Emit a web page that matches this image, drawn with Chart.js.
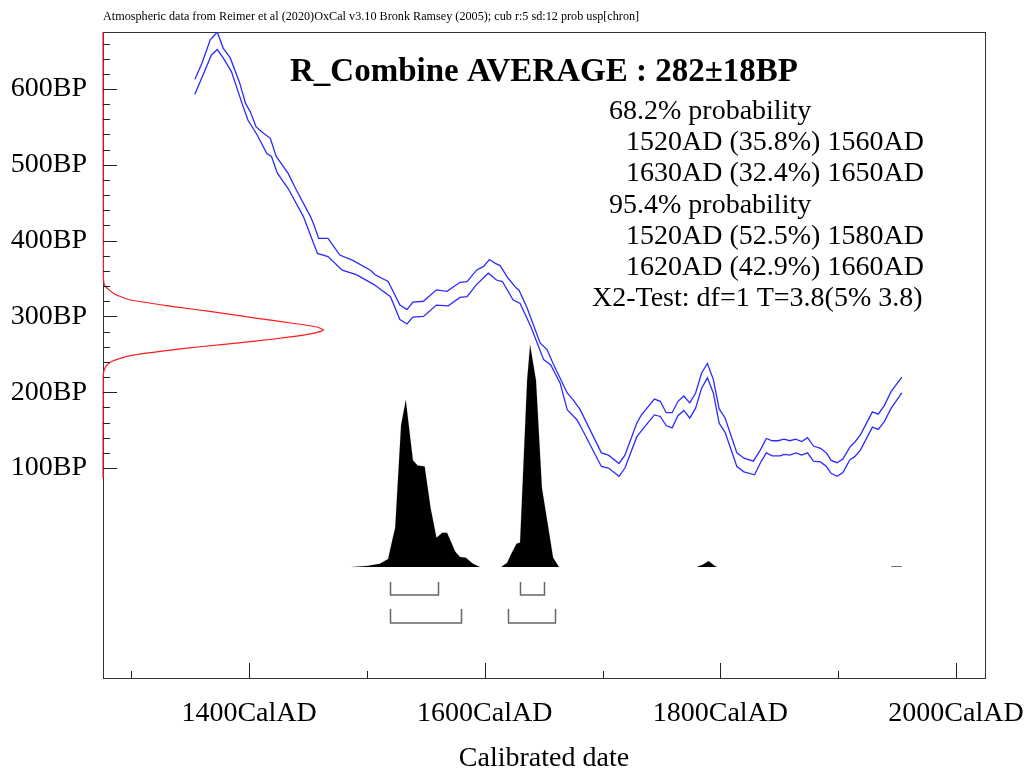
<!DOCTYPE html>
<html>
<head>
<meta charset="utf-8">
<script src="https://cdn.jsdelivr.net/npm/chart.js@4.4.0/dist/chart.umd.min.js"></script>
<style>
body{margin:0;background:#fff;}
canvas{display:block;}
</style>
</head>
<body>
<canvas id="calPlot" width="1029" height="769"></canvas>
<script>
// calibration curve, upper edge of the band (cal AD / BP)
const curveUpperYears = [1354,1360,1367,1370,1373,1378,1384,1392,1397,1401,
    1406,1412,1418,1423,1433,1440,1452,1455,1459,1467,
    1477,1488,1503,1507,1518,1528,1534,1539,1548,1559,
    1568,1579,1585,1593,1599,1604,1609,1613,1620,1627,
    1629,1636,1647,1653,1658,1670,1675,1681,1699,1705,
    1714,1719,1729,1733,1744,1749,1754,1759,1764,1769,
    1774,1779,1784,1789,1794,1799,1804,1814,1820,1828,
    1834,1839,1844,1849,1854,1859,1864,1869,1874,1879,
    1885,1890,1894,1899,1904,1910,1914,1919,1929,1934,
    1939,1945,1954];
const curveUpperBP = [613,634,665,670,675,654,641,608,581,570,
    550,542,535,511,489,467,432,421,403,403,
    381,374,361,355,346,315,309,319,320,335,
    333,345,346,361,366,375,370,367,350,337,
    335,311,265,256,238,199,190,177,120,117,
    106,117,159,170,191,188,173,173,188,195,
    186,199,225,238,217,178,166,120,113,109,
    124,139,136,136,138,136,138,135,140,129,
    126,120,110,107,112,128,134,144,174,171,
    182,201,220];

// calibration curve, lower edge of the band
const curveLowerYears = [1354,1368,1373,1378,1385,1394,1399,1407,1415,1419,
    1424,1433,1446,1458,1467,1479,1491,1506,1520,1528,
    1534,1539,1548,1559,1569,1579,1585,1593,1603,1610,
    1615,1624,1630,1639,1650,1656,1664,1670,1678,1681,
    1699,1705,1714,1719,1729,1735,1744,1749,1754,1759,
    1764,1769,1774,1779,1784,1789,1794,1799,1804,1814,
    1820,1829,1834,1839,1844,1851,1854,1859,1864,1869,
    1874,1879,1885,1890,1894,1899,1904,1910,1914,1919,
    1929,1934,1939,1945,1954];
const curveLowerBP = [593,645,652,641,623,581,559,539,515,511,
    489,469,432,383,379,361,355,342,326,296,
    290,299,300,315,314,325,326,342,357,348,
    346,322,317,287,243,236,212,177,164,156,
    102,100,89,100,141,153,170,168,156,153,
    169,176,166,179,205,219,199,159,147,102,
    95,91,107,120,116,116,118,117,120,117,
    120,109,108,102,93,89,94,111,115,124,
    154,151,161,179,199];

// calibrated distribution (relative probability, null = gap)
const probYears = [1487,1500,1511,1518,1522,1524,1529,1533,1539,1543,
    1549,1554,1559,1564,1568,1575,1579,1584,1590,1596,
    1605,1614,1619,1623,1627,1630,1636,1638.5,1643.5,1648.5,
    1653,1658,1663,1720,1780,1785,1790,1795,1797,1900,
    1945,1954];
const probValues = [0,0.004,0.014,0.036,0.131,0.176,0.638,0.751,0.48,0.457,
    0.452,0.267,0.131,0.154,0.154,0.068,0.045,0.041,0.014,0,
    null,0,0.019,0.064,0.104,0.11,0.842,1,0.84,0.357,
    0.208,0.042,0,null,0,0.01,0.027,0.006,0,null,
    0.002,0.002];

// radiocarbon date 282±18BP (relative density)
const dateBP = [675,350,340,330,322,313,306,300,295,291,286,282,278,273,267,260,254,249,243,238,230,220,87];
const dateDensity = [0,0.002,0.01,0.05,0.12,0.32,0.5,0.64,0.76,0.86,0.97,1,0.96,0.85,0.68,0.44,0.26,0.136,0.06,0.025,0.006,0.001,0];

// hpd ranges
const range68 = [[1520,1560],[1630,1650]];
const range95 = [[1520,1580],[1620,1660]];

// ticks
const xTickYears = [1300,1400,1500,1600,1700,1800,1900,2000];
const xLabelYears = [1400,1600,1800,2000];
const yTickBP = [100,200,300,400,500,600];
const yMinorBP = [120,140,160,180,220,240,260,280,320,340,360,380,420,440,460,480,520,540,560,580,620,640,660];

const noteText = "Atmospheric data from Reimer et al (2020)OxCal v3.10 Bronk Ramsey (2005); cub r:5 sd:12 prob usp[chron]";
const titleText = "R_Combine AVERAGE : 282\u00b118BP";
const resultLines = ["68.2% probability", "1520AD (35.8%) 1560AD", "1630AD (32.4%) 1650AD",
    "95.4% probability", "1520AD (52.5%) 1580AD", "1620AD (42.9%) 1660AD", "X2-Test: df=1 T=3.8(5% 3.8)"];
const resultIndent = [609, 626, 626, 609, 626, 626, 592];

const serif = "'Liberation Serif', 'Times New Roman', serif";

function toPoints(xs, ys){
    return xs.map(function(x, i){ return {x: x, y: ys[i]}; });
}

// box round the plot area, drawn under the data
const framePlugin = {
    id: 'frame',
    beforeDatasetsDraw(chart){
        const a = chart.chartArea, c = chart.ctx;
        c.save();
        c.strokeStyle = '#333';
        c.lineWidth = 1;
        c.strokeRect(a.left + 0.5, a.top + 0.5, a.right - a.left, a.bottom - a.top);
        c.restore();
    }
};

// inward tick marks, hpd brackets and the text block
const overlayPlugin = {
    id: 'overlay',
    afterDatasetsDraw(chart){
        const a = chart.chartArea, c = chart.ctx;
        const xs = chart.scales.x, ys = chart.scales.y, yp = chart.scales.yProb;
        c.save();
        c.strokeStyle = '#222';
        c.lineWidth = 1;
        c.beginPath();
        xTickYears.forEach(function(v){
            const px = Math.round(xs.getPixelForValue(v)) + 0.5;
            const len = xLabelYears.indexOf(v) >= 0 ? 15 : 7;
            c.moveTo(px, a.bottom);
            c.lineTo(px, a.bottom - len);
        });
        yTickBP.forEach(function(v){
            const py = Math.round(ys.getPixelForValue(v)) + 0.5;
            c.moveTo(a.left, py);
            c.lineTo(a.left + 14, py);
        });
        yMinorBP.forEach(function(v){
            const py = Math.round(ys.getPixelForValue(v)) + 0.5;
            c.moveTo(a.left, py);
            c.lineTo(a.left + 7, py);
        });
        c.stroke();

        // hpd range brackets under the distribution
        const base = yp.getPixelForValue(0);
        c.strokeStyle = '#666';
        c.lineWidth = 1.5;
        [[range68, 15, 28], [range95, 42, 56]].forEach(function(row){
            row[0].forEach(function(r){
                const x1 = Math.round(xs.getPixelForValue(r[0])) + 0.5;
                const x2 = Math.round(xs.getPixelForValue(r[1])) + 0.5;
                c.beginPath();
                c.moveTo(x1, base + row[1]);
                c.lineTo(x1, base + row[2]);
                c.lineTo(x2, base + row[2]);
                c.lineTo(x2, base + row[1]);
                c.stroke();
            });
        });

        c.fillStyle = '#000';
        c.textBaseline = 'alphabetic';
        c.textAlign = 'left';
        c.font = '12.2px ' + serif;
        c.fillText(noteText, 103, 20);

        c.textAlign = 'center';
        c.font = 'bold 33px ' + serif;
        c.fillText(titleText, 544, 81);

        c.textAlign = 'left';
        c.font = '28px ' + serif;
        resultLines.forEach(function(t, i){
            c.fillText(t, resultIndent[i], 119 + i * 31.2);
        });

        c.textAlign = 'center';
        c.fillText('Calibrated date', (a.left + a.right) / 2, 766);
        c.restore();
    }
};

const ctx = document.getElementById('calPlot').getContext('2d');
new Chart(ctx, {
    type: 'scatter',
    data: {
        datasets: [
            {
                data: toPoints(probYears, probValues),
                yAxisID: 'yProb',
                showLine: true,
                spanGaps: false,
                fill: 'origin',
                backgroundColor: '#000',
                borderColor: 'rgba(0,0,0,0.15)',
                borderWidth: 1,
                pointRadius: 0
            },
            {
                data: toPoints(curveUpperYears, curveUpperBP),
                showLine: true,
                borderColor: '#2b2bff',
                borderWidth: 1.3,
                pointRadius: 0
            },
            {
                data: toPoints(curveLowerYears, curveLowerBP),
                showLine: true,
                borderColor: '#2b2bff',
                borderWidth: 1.3,
                pointRadius: 0
            },
            {
                data: toPoints(dateDensity, dateBP),
                xAxisID: 'xDate',
                showLine: true,
                borderColor: '#ff1a1a',
                borderWidth: 1.2,
                pointRadius: 0,
                tension: 0.2,
                clip: false
            }
        ]
    },
    options: {
        responsive: false,
        animation: false,
        layout: {padding: {top: 32, right: 44, left: 0, bottom: 0}},
        plugins: {legend: {display: false}, tooltip: {enabled: false}},
        scales: {
            x: {
                type: 'linear', position: 'bottom', min: 1276, max: 2024.6,
                grid: {display: false, drawTicks: false},
                border: {display: false},
                afterBuildTicks: function(s){ s.ticks = xLabelYears.map(function(v){ return {value: v}; }); },
                ticks: {
                    callback: function(v){ return v + 'CalAD'; },
                    font: {family: serif, size: 28},
                    color: '#000', padding: 19, maxRotation: 0, autoSkip: false
                },
                afterFit: function(s){ s.height = 91; s.paddingLeft = 0; s.paddingRight = 0; }
            },
            y: {
                type: 'linear', position: 'left', min: -177, max: 675.2,
                grid: {display: false, drawTicks: false},
                border: {display: false},
                afterBuildTicks: function(s){ s.ticks = yTickBP.map(function(v){ return {value: v}; }); },
                ticks: {
                    callback: function(v){ return v + 'BP'; },
                    font: {family: serif, size: 28},
                    color: '#000', padding: 16, autoSkip: false
                },
                afterFit: function(s){ s.width = 103; s.paddingTop = 0; s.paddingBottom = 0; }
            },
            yProb: {type: 'linear', display: false, min: -0.5, max: 2.409},
            xDate: {type: 'linear', display: false, min: 0, max: 4}
        }
    },
    plugins: [framePlugin, overlayPlugin]
});
</script>
</body>
</html>
